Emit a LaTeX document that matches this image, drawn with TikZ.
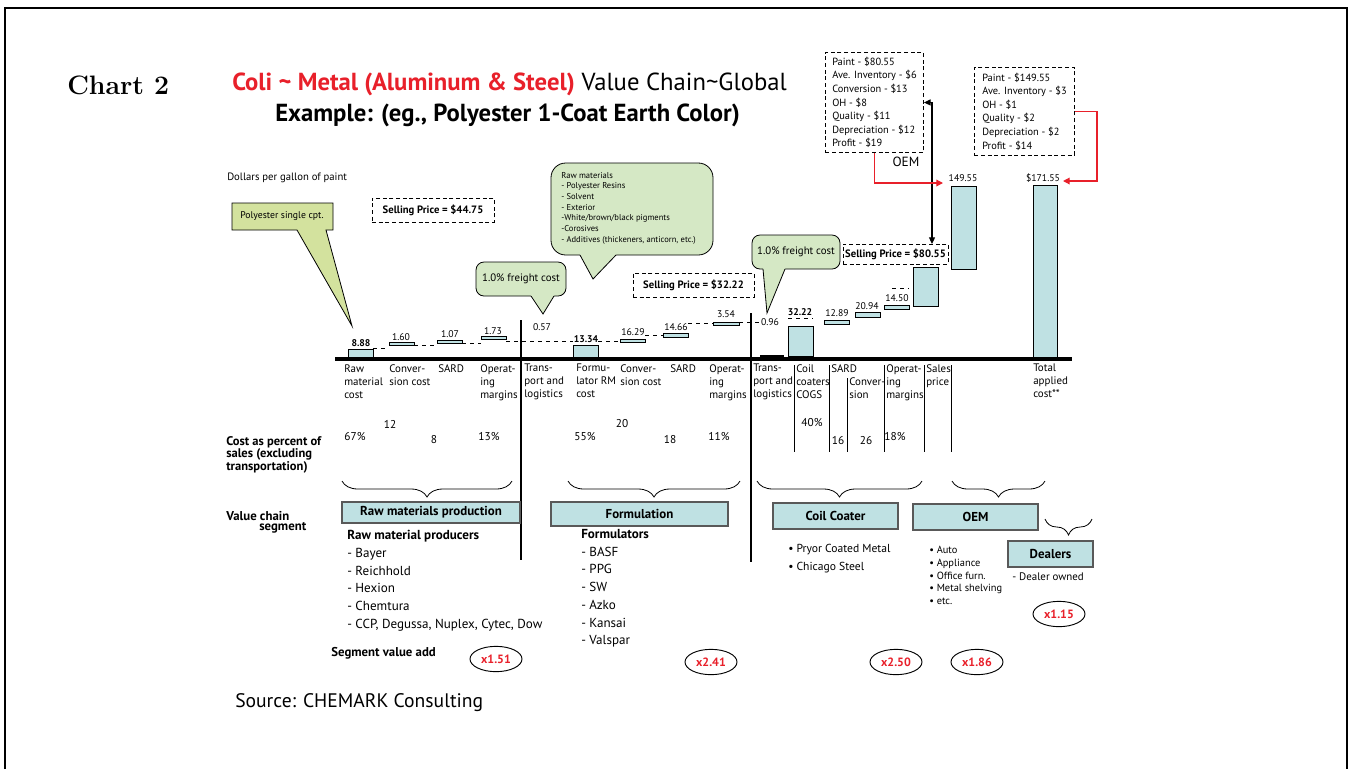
\documentclass[tikz,border=0pt]{standalone}
\usepackage{fontspec}
\setsansfont{PT Sans}
\usetikzlibrary{arrows.meta,decorations.pathreplacing,shapes.geometric}
\definecolor{barcyan}{HTML}{BFE1E3}
\definecolor{callgreen}{HTML}{D5E8C5}
\definecolor{callolive}{HTML}{D3E29E}
\definecolor{titlered}{HTML}{E8202A}
\newcommand\setfs[2]{\fontsize{#1}{#2}\selectfont}
\begin{document}
\begin{tikzpicture}[x=0.75pt,y=-0.75pt,font=\sffamily,
    bar/.style={draw,fill=barcyan,line width=0.6pt},
    val/.style={inner sep=0pt,font=\sffamily\setfs{7.3}{8}},
    catlbl/.style={inner sep=0pt,anchor=north west,align=left,font=\sffamily\setfs{8.2}{9.75}},
    pct/.style={inner sep=0pt,font=\sffamily\setfs{8.5}{9.75}},
    pricebox/.style={draw,dash pattern=on 3pt off 2pt,line width=0.7pt,inner sep=0pt,font=\sffamily\bfseries\setfs{8}{9}},
    infobox/.style={draw,dash pattern=on 3pt off 2pt,line width=0.7pt,anchor=north west,align=left,inner xsep=4pt,inner ysep=3pt,font=\sffamily\setfs{7.8}{10.2}},
    segbox/.style={draw=black!65,line width=0.9pt,fill=barcyan,inner sep=0pt,font=\sffamily\bfseries\setfs{9.7}{11}},
    mult/.style={draw,ellipse,line width=0.7pt,inner sep=0pt,minimum width=39pt,minimum height=19pt,text=titlered,font=\sffamily\bfseries\setfs{9}{10}},
    downbrace/.style={decorate,decoration={brace,mirror,amplitude=12pt},line width=0.6pt},
    redarrow/.style={draw=titlered,line width=0.9pt,-{Triangle[length=5pt,width=5pt]}},
    callout/.style={draw,line width=0.6pt,fill=callgreen}]
  \useasboundingbox (0,0) rectangle (1352,769);
  \draw[line width=0.8pt] (5,769) -- (5,8) -- (1347,8) -- (1347,769);
  % titles
  \node[anchor=west,inner sep=0pt,font=\rmfamily\bfseries\setfs{20}{24}] (chart) at (67,85) {Chart 2};
  \node[anchor=west,inner sep=0pt,font=\sffamily\setfs{18.5}{22}] (title1) at (232,84)
    {\textcolor{titlered}{\bfseries Coli \textasciitilde{} Metal (Aluminum \& Steel)} Value Chain\textasciitilde Global};
  \node[anchor=west,inner sep=0pt,font=\sffamily\bfseries\setfs{18.5}{22}] (title2) at (275,115)
    {Example: (eg., Polyester 1-Coat Earth Color)};
  \node[anchor=west,inner sep=0pt,font=\sffamily\setfs{8}{9}] (units) at (227,178) {Dollars per gallon of paint};
  % callouts
  \draw[line width=0.6pt,fill=callolive] (232,203) -- (333,203) -- (333,230) -- (326,230) -- (352,326) -- (297,230) -- (232,230) -- cycle;
  \node[font=\sffamily\setfs{7.3}{9}] (polyc) at (282,216.5) {Polyester single cpt.};
  \draw[callout,rounded corners=6pt] (476,262) rectangle (566,296);
  \fill[callgreen] (531,293) -- (554,293) -- (554,296) -- (543,314) -- (531,296) -- cycle;
  \draw[line width=0.6pt] (531,296) -- (543,314) -- (554,296);
  \node[font=\sffamily\setfs{8.1}{9}] (frt1) at (521,279) {1.0\% freight cost};
  \draw[callout,rounded corners=11pt] (551,163) rectangle (713,255);
  \fill[callgreen] (580,252) -- (616,252) -- (616,255) -- (593,279) -- (580,255) -- cycle;
  \draw[line width=0.6pt] (580,255) -- (593,279) -- (616,255);
  \node[anchor=north west,align=left,inner sep=0pt,font=\sffamily\setfs{6.4}{8}] (rawmat) at (561,172)
    {Raw materials\\- Polyester Resins\\- Solvent\\- Exterior\\-White/brown/black pigments\\-Corosives\\- Additives (thickeners, anticorn, etc.)};
  \draw[callout,rounded corners=6pt] (752,235) rectangle (840,269);
  \fill[callgreen] (763,266) -- (785,266) -- (785,269) -- (767,313) -- (763,269) -- cycle;
  \draw[line width=0.6pt] (763,269) -- (767,313) -- (785,269);
  \node[font=\sffamily\setfs{8.1}{9}] (frt2) at (796,252) {1.0\% freight cost};
  % selling prices
  \node[pricebox,minimum width=91.5pt,minimum height=18pt] (sp1) at (433,210) {Selling Price = \$44.75};
  \node[pricebox,minimum width=90.75pt,minimum height=18pt] (sp2) at (693.5,285) {Selling Price = \$32.22};
  \node[pricebox,minimum width=78.75pt,minimum height=15pt] (sp3) at (895.5,254) {Selling Price = \$80.55};
  % cost breakdown boxes
  \node[infobox,minimum width=73.5pt,minimum height=75pt] (oembox) at (825,52) {Paint - \$80.55\\Ave. Inventory - \$6\\Conversion - \$13\\OH - \$8\\Quality - \$11\\Depreciation - \$12\\Profit - \$19};
  \node[font=\sffamily\setfs{10}{12},inner sep=0pt] (oemtag) at (906,162) {OEM};
  \node[infobox,minimum width=75pt,minimum height=66pt] (dealbox) at (974,67) {Paint - \$149.55\\Ave. Inventory - \$3\\OH - \$1\\Quality - \$2\\Depreciation - \$2\\Profit - \$14};
  \coordinate (sptop) at (932,244);
  \coordinate (oemin) at (943,183);
  \coordinate (dealin) at (1063,181);
  \draw[line width=0.8pt,{Triangle[length=5pt,width=4.5pt]}-{Triangle[length=5pt,width=4.5pt]}] (oembox.east) -| (sptop);
  \draw[redarrow] (oembox.south) |- (oemin);
  \draw[redarrow] (dealbox.east) -- ++(22,0) |- (dealin);
  % bars
  \draw[bar] (348,349) rectangle (373,357);
  \draw[bar] (389,342) rectangle (414,345);
  \draw[bar] (437,340) rectangle (462,343);
  \draw[bar] (481,336) rectangle (506,339);
  \draw[bar] (573,345) rectangle (598,357);
  \draw[bar] (620,339) rectangle (645,342);
  \draw[bar] (663,333) rectangle (688,337);
  \draw[bar] (713,322) rectangle (739,325);
  \fill (760,355) rectangle (784,358);
  \draw[bar] (788,326) rectangle (813,356);
  \draw[bar] (824,320) rectangle (849,324);
  \draw[bar] (855,312) rectangle (880,317);
  \draw[bar] (884,305) rectangle (909,309);
  \draw[bar] (913,267) rectangle (938,306);
  \draw[bar] (951,186) rectangle (976,269);
  \draw[bar] (1033,185) rectangle (1057,358);
  \draw[line width=3pt] (335,359) -- (1072,359);
  % step connectors
  \draw[dashed,line width=0.5pt] (373,348) -- (389,348);
  \draw[dashed,line width=0.5pt] (414,345) -- (437,345);
  \draw[dashed,line width=0.5pt] (462,343) -- (481,343);
  \draw[dashed,line width=0.5pt] (506,341) -- (573,341);
  \draw[dashed,line width=0.5pt] (598,341) -- (620,341);
  \draw[dashed,line width=0.5pt] (645,335) -- (663,335);
  \draw[dashed,line width=0.5pt] (688,323) -- (713,323);
  \draw[dashed,line width=0.5pt] (739,322) -- (760,322);
  \draw[dashed,line width=0.5pt] (788,318) -- (813,318);
  \draw[dashed,line width=0.5pt] (892,288) -- (909,288);
  % bar values
  \node[val] (v1) at (361,343) {\textbf{8.88}};
  \node[val] (v2) at (401,337) {1.60};
  \node[val] (v3) at (450,334) {1.07};
  \node[val] (v4) at (493,331) {1.73};
  \node[val] (v5) at (542,327) {0.57};
  \node[val] (v6) at (586,339) {\textbf{13.34}};
  \node[val] (v7) at (633,332) {16.29};
  \node[val] (v8) at (676,327) {14.66};
  \node[val] (v9) at (726,314) {3.54};
  \node[val] (v10) at (770,322) {0.96};
  \node[val] (v11) at (800,312) {\textbf{32.22}};
  \node[val] (v12) at (837,313) {12.89};
  \node[val] (v13) at (867,306) {20.94};
  \node[val] (v14) at (897,298) {14.50};
  \node[val] (v15) at (963,178) {149.55};
  \node[val] (v16) at (1043,178) {\$171.55};
  % dividers
  \draw[line width=0.8pt] (521,320) -- (521,560);
  \draw[line width=0.8pt] (751,313) -- (751,562);
  \foreach \dx in {794,829,884,924,951}
    \draw[line width=0.6pt] (\dx,365) -- (\dx,452);
  \draw[line width=0.6pt] (847,378) -- (847,452);
  % category labels
  \node[catlbl] (c1) at (344,364) {Raw\\material\\cost};
  \node[catlbl] (c2) at (389,364) {Conver-\\sion cost};
  \node[catlbl] (c3) at (438,364) {SARD};
  \node[catlbl] (c4) at (480,364) {Operat-\\ing\\margins};
  \node[catlbl] (c5) at (524,364) {Trans-\\port and\\logistics};
  \node[catlbl] (c6) at (576,364) {Formu-\\lator RM\\cost};
  \node[catlbl] (c7) at (620,364) {Conver-\\sion cost};
  \node[catlbl] (c8) at (670,364) {SARD};
  \node[catlbl] (c9) at (709,364) {Operat-\\ing\\margins};
  \node[catlbl] (c10) at (753,364) {Trans-\\port and\\logistics};
  \node[catlbl] (c11) at (796,364) {Coil\\coaters\\COGS};
  \node[catlbl] (c12) at (831,364) {SARD};
  \node[catlbl] (c13) at (849,377) {Conver-\\sion};
  \node[catlbl] (c14) at (886,364) {Operat-\\ing\\margins};
  \node[catlbl] (c15) at (926,364) {Sales\\price};
  \node[catlbl] (c16) at (1033,364) {Total\\applied\\cost**};
  % percentages
  \node[anchor=north west,align=left,inner sep=0pt,font=\sffamily\bfseries\setfs{9.4}{9.4}] (pcthead) at (226,436)
    {Cost as percent of\\sales (excluding\\transportation)};
  \node[pct] (p1) at (355,437) {67\%};
  \node[pct] (p2) at (390,424) {12};
  \node[pct] (p3) at (434,440) {8};
  \node[pct] (p4) at (489,437) {13\%};
  \node[pct] (p5) at (585,437) {55\%};
  \node[pct] (p6) at (622,424) {20};
  \node[pct] (p7) at (670,440) {18};
  \node[pct] (p8) at (719,437) {11\%};
  \node[pct] (p9) at (812,423) {40\%};
  \node[pct] (p10) at (838,441) {16};
  \node[pct] (p11) at (866,441) {26};
  \node[pct] (p12) at (895,437) {18\%};
  % value chain segments
  \node[anchor=west,inner sep=0pt,font=\sffamily\bfseries\setfs{9.6}{10}] (vcs1) at (226,516) {Value chain};
  \node[anchor=west,inner sep=0pt,font=\sffamily\bfseries\setfs{9.6}{10}] (vcs2) at (259,528) {segment};
  \draw[downbrace] (342,481) -- (512,481);
  \draw[downbrace] (568,481) -- (740,481);
  \draw[downbrace] (757,481) -- (922,481);
  \draw[downbrace] (952,481) -- (1045,481);
  \draw[downbrace] (1045,519) -- (1092,519);
  \node[segbox,minimum width=133.5pt,minimum height=15.75pt] (segraw) at (431,512.5) {Raw materials production};
  \node[segbox,minimum width=132.75pt,minimum height=18pt] (segform) at (639.5,514) {Formulation};
  \node[segbox,minimum width=93.75pt,minimum height=19.5pt] (segcoil) at (835.5,516) {Coil Coater};
  \node[segbox,minimum width=93.75pt,minimum height=19.5pt] (segoem) at (975.5,517) {OEM};
  \node[segbox,minimum width=63.75pt,minimum height=19.5pt] (segdeal) at (1050.5,554) {Dealers};
  % players
  \node[anchor=north west,align=left,inner sep=0pt,font=\sffamily\setfs{9.8}{13.3}] (rawlist) at (347,530)
    {\textbf{Raw material producers}\\- Bayer\\- Reichhold\\- Hexion\\- Chemtura\\- CCP, Degussa, Nuplex, Cytec, Dow};
  \node[anchor=north west,align=left,inner sep=0pt,font=\sffamily\setfs{9.8}{13.3}] (formlist) at (581,529)
    {\textbf{Formulators}\\- BASF\\- PPG\\- SW\\- Azko\\- Kansai\\- Valspar};
  \node[anchor=north west,align=left,inner sep=0pt,font=\sffamily\setfs{8.7}{13.5}] (coillist) at (788,544)
    {\textbullet{} Pryor Coated Metal\\\textbullet{} Chicago Steel};
  \node[anchor=north west,align=left,inner sep=0pt,font=\sffamily\setfs{7.8}{9.56}] (oemlist) at (929,546)
    {\textbullet{} Auto\\\textbullet{} Appliance\\\textbullet{} Office furn.\\\textbullet{} Metal shelving\\\textbullet{} etc.};
  \node[anchor=west,inner sep=0pt,font=\sffamily\setfs{8.2}{9}] (deallist) at (1012,577) {- Dealer owned};
  % value added
  \node[anchor=west,inner sep=0pt,font=\sffamily\bfseries\setfs{9.6}{10}] (svadd) at (331,653) {Segment value add};
  \node[mult] (m1) at (496,659) {x1.51};
  \node[mult] (m2) at (711,662) {x2.41};
  \node[mult] (m3) at (896,662) {x2.50};
  \node[mult] (m4) at (977,662) {x1.86};
  \node[mult] (m5) at (1059,614) {x1.15};
  \node[anchor=west,inner sep=0pt,font=\sffamily\setfs{14.7}{17}] (source) at (235,703) {Source: CHEMARK Consulting};
\end{tikzpicture}
\end{document}
